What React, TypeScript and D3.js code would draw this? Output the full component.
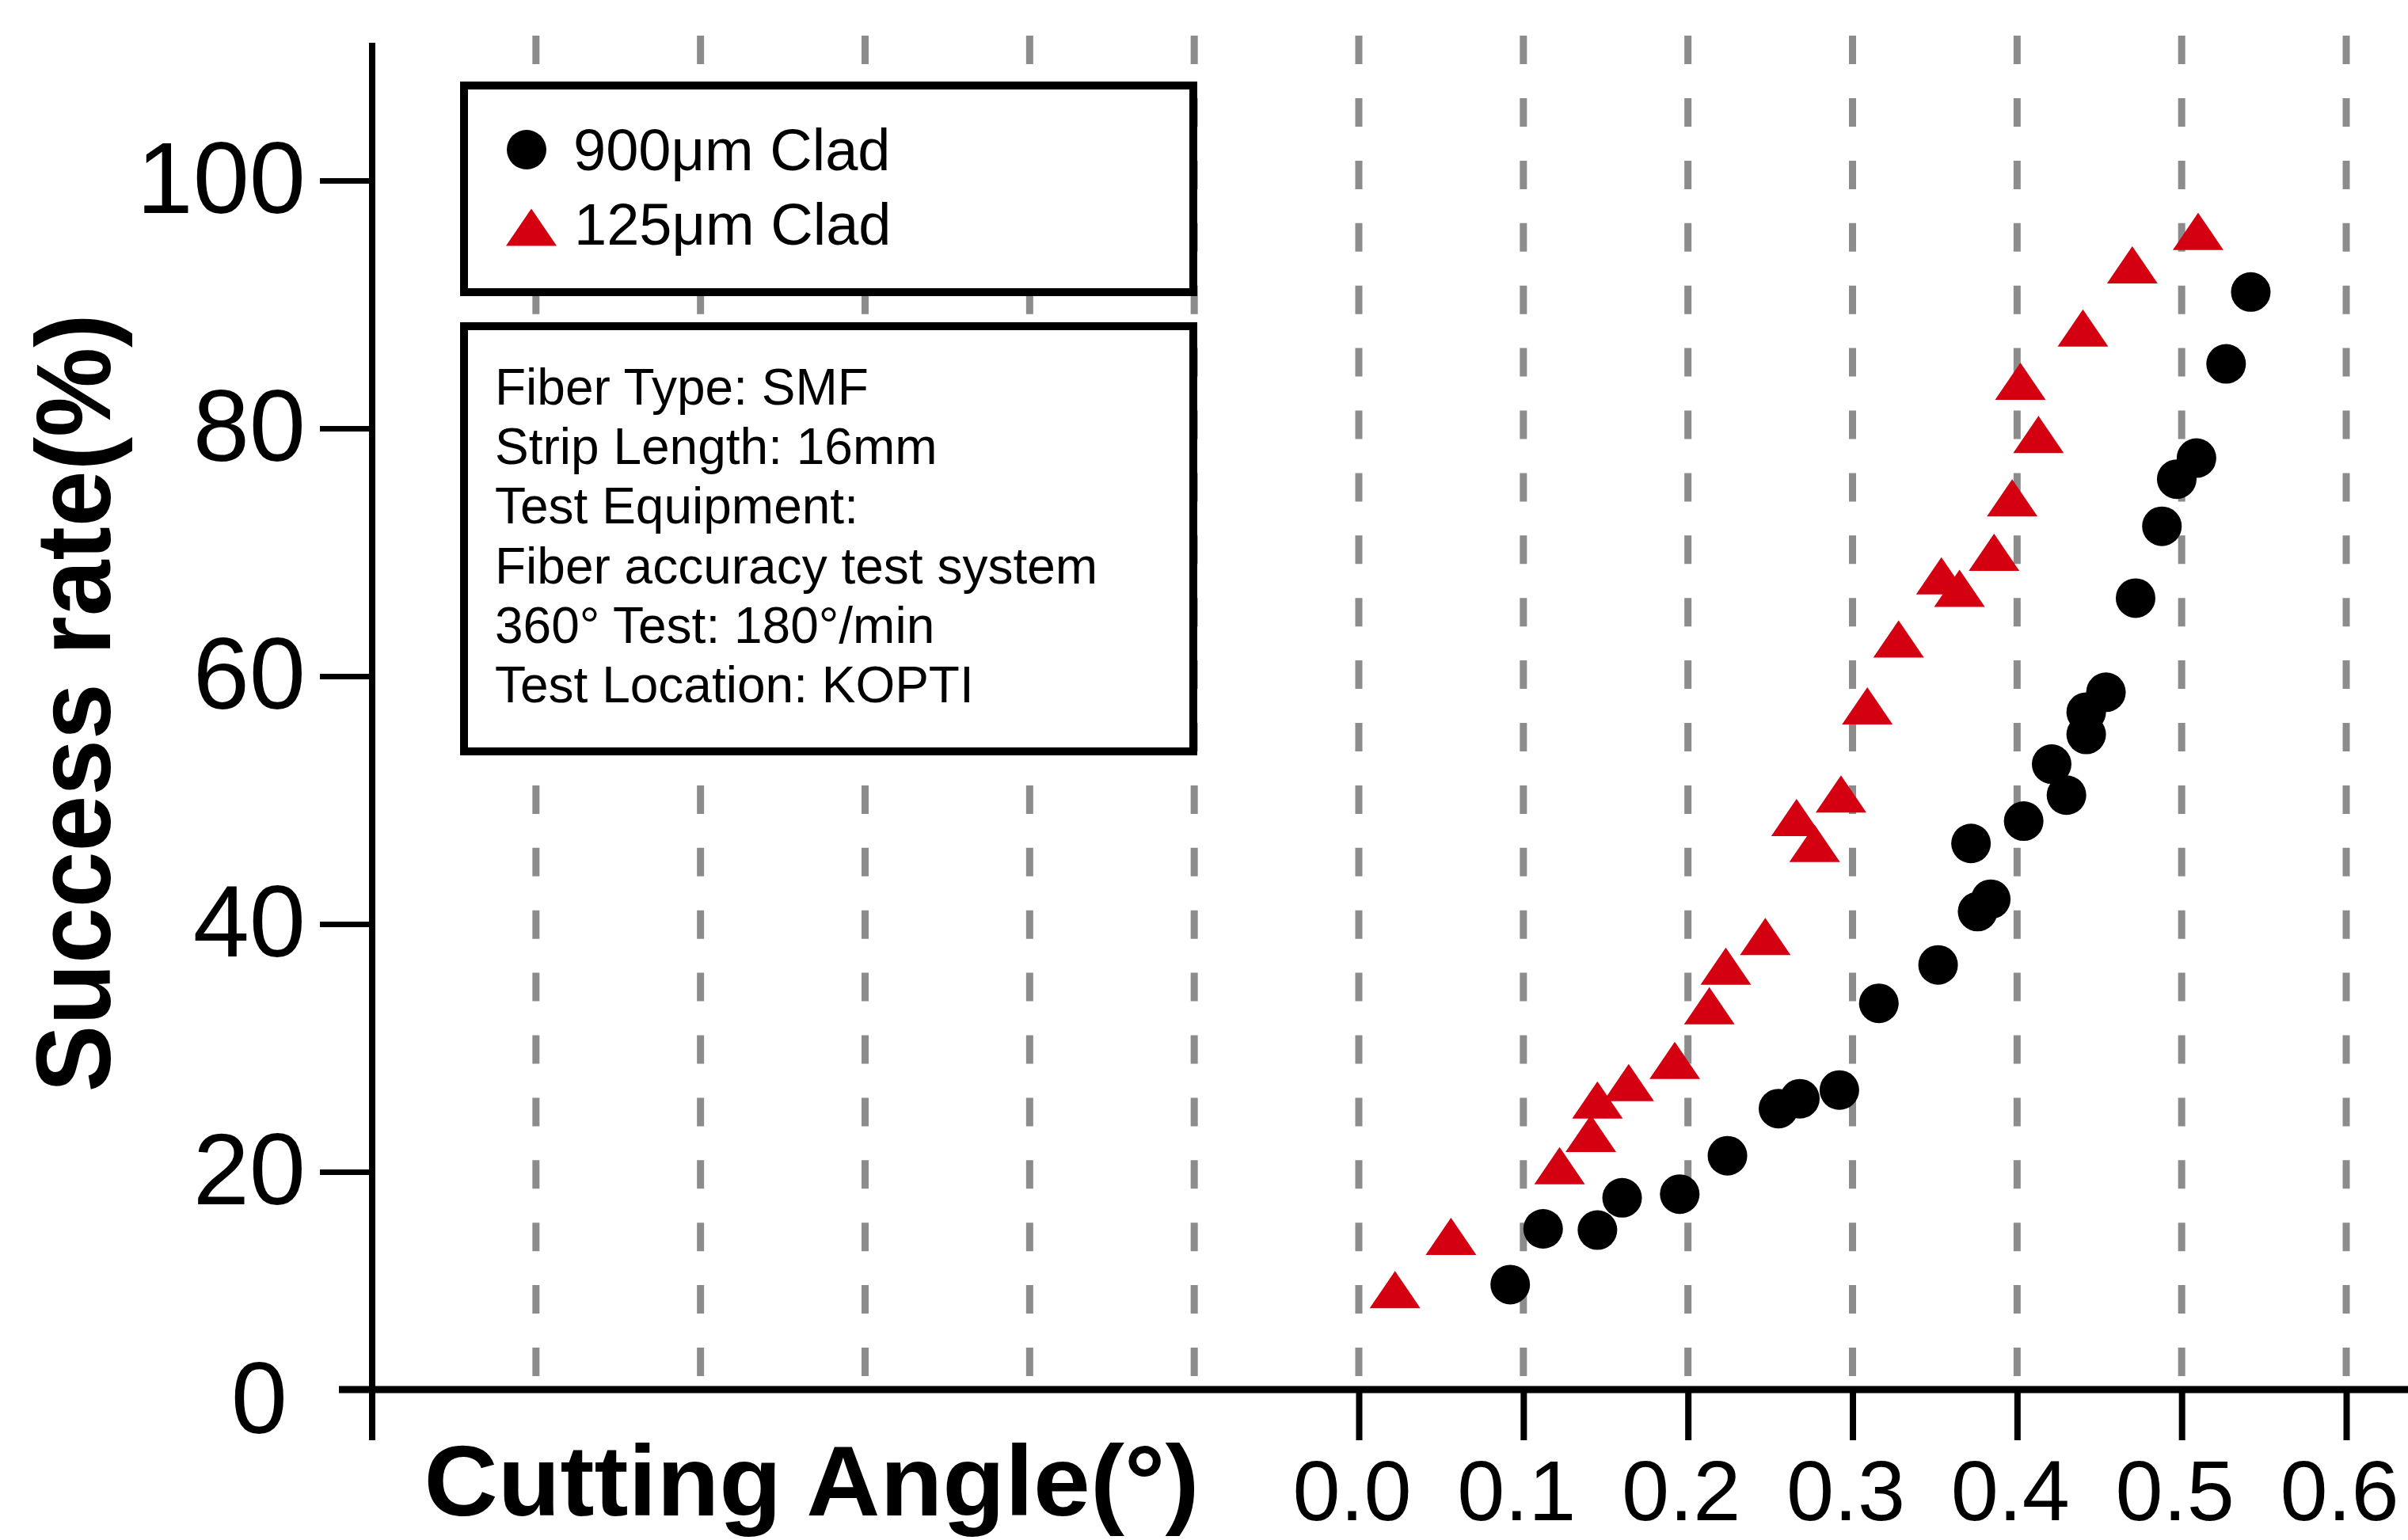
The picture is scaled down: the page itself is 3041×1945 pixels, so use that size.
// @ts-nocheck
import * as d3 from "d3";
import { useRef, useEffect } from "react";

const W = 3041;
const H = 1945;
const FONT = "'Liberation Sans', Arial, Helvetica, sans-serif";
const RED = "#d40011";

// 900um clad (black circles)
const clad900Angle = [
  0.092, 0.112, 0.145, 0.160, 0.195, 0.224, 0.255, 0.268, 0.292, 0.316, 0.352,
  0.376, 0.384, 0.372, 0.404, 0.430, 0.421, 0.442, 0.442, 0.454, 0.472, 0.488,
  0.497, 0.509, 0.527, 0.542,
];
const clad900Rate = [
  10.9, 15.4, 15.3, 17.9, 18.2, 21.3, 25.1, 25.9, 26.6, 33.6, 36.7, 41.0, 42.0,
  46.5, 48.3, 50.4, 52.9, 55.3, 57.1, 58.7, 66.3, 72.1, 75.9, 77.6, 85.2, 91.0,
];

// 125um clad (red triangles)
const clad125Angle = [
  0.022, 0.056, 0.122, 0.141, 0.145, 0.164, 0.192, 0.213, 0.223, 0.247, 0.266,
  0.277, 0.293, 0.309, 0.328, 0.354, 0.365, 0.386, 0.397, 0.413, 0.402, 0.440,
  0.470, 0.510,
];
const clad125Rate = [
  10.5, 14.8, 20.5, 23.1, 25.8, 27.2, 29.0, 33.4, 36.6, 39.0, 48.6, 46.5, 50.5,
  57.6, 63.0, 68.1, 67.1, 70.0, 74.4, 79.5, 83.8, 88.1, 93.2, 95.9,
];

const xTickValues = [0, 0.1, 0.2, 0.3, 0.4, 0.5, 0.6];
const yTickValues = [20, 40, 60, 80, 100];
const gridValues = [-0.5, -0.4, -0.3, -0.2, -0.1, 0, 0.1, 0.2, 0.3, 0.4, 0.5, 0.6];
const legendLabels = ["900μm Clad", "125μm Clad"];
const infoLines = [
  "Fiber Type: SMF",
  "Strip Length: 16mm",
  "Test Equipment:",
  "Fiber accuracy test system",
  "360° Test: 180°/min",
  "Test Location: KOPTI",
];

const TRI_W = 64;
const TRI_H = 47;
const triPath = `M0,${-TRI_H / 2}L${TRI_W / 2},${TRI_H / 2}L${-TRI_W / 2},${TRI_H / 2}Z`;

export default function App() {
  const gx = useRef();
  const gy = useRef();

  const x = d3.scaleLinear([0, 0.6], [1716, 2963]);
  const y = d3.scaleLinear([0, 100], [1793, 228]);
  const axisLeftX = 470;
  const axisBottomY = 1755;

  useEffect(() => {
    document.body.style.margin = "0";
    const g = d3.select(gx.current);
    g.call(
      d3
        .axisBottom(x)
        .tickValues(xTickValues)
        .tickSize(64)
        .tickPadding(24)
        .tickFormat(d3.format(".1f")),
    );
    g.select(".domain").remove();
    g.attr("font-size", 108).attr("font-family", FONT);
    g.selectAll(".tick line").attr("stroke", "#000").attr("stroke-width", 8);
    g.selectAll(".tick text").attr("fill", "#000").attr("dx", -9);

    const h = d3.select(gy.current);
    h.call(d3.axisLeft(y).tickValues(yTickValues).tickSize(66).tickPadding(18));
    h.select(".domain").remove();
    h.attr("font-size", 128).attr("font-family", FONT);
    h.selectAll(".tick line").attr("stroke", "#000").attr("stroke-width", 7);
    h.selectAll(".tick text").attr("fill", "#000");
  }, []);

  return (
    <svg
      width={W}
      height={H}
      style={{ position: "fixed", left: 0, top: 0, background: "#fff" }}
    >
      <rect width={W} height={H} fill="#fff" />

      {/* dashed vertical grid */}
      <g stroke="#8c8c8c" strokeWidth={9} strokeDasharray="36 42.9">
        {gridValues.map((v) => (
          <line key={v} x1={x(v)} x2={x(v)} y1={1738} y2={40} />
        ))}
      </g>

      {/* legend box */}
      <rect x={586} y={108} width={921} height={261} fill="#fff" stroke="#000" strokeWidth={10} />
      <circle cx={665} cy={189} r={25} fill="#000" />
      <path d={triPath} transform="translate(671,287)" fill={RED} />
      <g fontFamily={FONT} fontSize={74} fill="#000">
        <text x={724} y={215}>{legendLabels[0]}</text>
        <text x={725} y={309}>{legendLabels[1]}</text>
      </g>

      {/* info box */}
      <rect x={586} y={412} width={921} height={537} fill="#fff" stroke="#000" strokeWidth={10} />
      <g fontFamily={FONT} fontSize={64} fill="#000">
        {infoLines.map((t, i) => (
          <text key={t} x={625} y={511 + i * 75.2}>
            {t}
          </text>
        ))}
      </g>

      {/* axes lines */}
      <line x1={axisLeftX} x2={axisLeftX} y1={54} y2={1819} stroke="#000" strokeWidth={8} />
      <line x1={428} x2={W} y1={axisBottomY} y2={axisBottomY} stroke="#000" strokeWidth={9} />
      <g ref={gx} transform={`translate(0,${axisBottomY})`} />
      <g ref={gy} transform={`translate(${axisLeftX},0)`} />
      <text
        x={363}
        y={axisBottomY + 55}
        textAnchor="end"
        fontFamily={FONT}
        fontSize={128}
        fill="#000"
      >
        0
      </text>

      {/* titles */}
      <text
        transform="translate(139,888) rotate(-90)"
        textAnchor="middle"
        fontFamily={FONT}
        fontWeight="bold"
        fontSize={134}
        textLength={983}
        lengthAdjust="spacingAndGlyphs"
        fill="#000"
      >
        Success rate(%)
      </text>
      <text
        x={1025}
        y={1914}
        textAnchor="middle"
        fontFamily={FONT}
        fontWeight="bold"
        fontSize={126}
        textLength={979}
        lengthAdjust="spacingAndGlyphs"
        fill="#000"
      >
        Cutting Angle(°)
      </text>

      {/* data */}
      <g fill="#000">
        {clad900Angle.map((a, i) => (
          <circle key={"c" + i} cx={x(a)} cy={y(clad900Rate[i])} r={25} />
        ))}
      </g>
      <g fill={RED}>
        {clad125Angle.map((a, i) => (
          <path
            key={"t" + i}
            d={triPath}
            transform={`translate(${x(a)},${y(clad125Rate[i])})`}
          />
        ))}
      </g>
    </svg>
  );
}
